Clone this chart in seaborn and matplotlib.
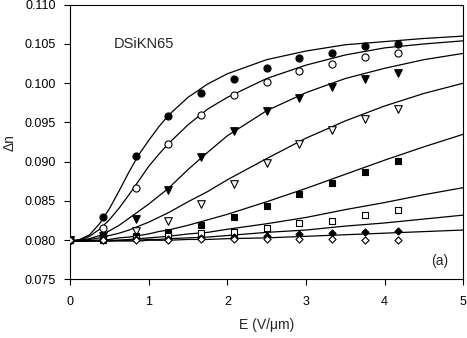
import matplotlib
matplotlib.use("Agg")
import matplotlib.pyplot as plt
from matplotlib.ticker import FormatStrFormatter
import seaborn as sns

# field E (V/um) where the points were measured
E_pts = [0, 0.417, 0.833, 1.25, 1.667, 2.083, 2.5, 2.917, 3.333, 3.75, 4.167]

# measured birefringence, one list per marker
dn_fc = [0.0800, 0.0830, 0.0907, 0.0958, 0.0987, 0.1006, 0.1020, 0.1032, 0.1039, 0.1047, 0.1050]
dn_oc = [0.0800, 0.0815, 0.0867, 0.0923, 0.0960, 0.0985, 0.1002, 0.1015, 0.1025, 0.1033, 0.1039]
dn_ft = [0.0800, 0.0805, 0.0827, 0.0864, 0.0906, 0.0939, 0.0964, 0.0981, 0.0995, 0.1005, 0.1013]
dn_ot = [0.0800, 0.0802, 0.0812, 0.0824, 0.0846, 0.0871, 0.0899, 0.0922, 0.0941, 0.0955, 0.0967]
dn_fs = [0.0800, 0.0801, 0.0805, 0.0811, 0.0819, 0.0829, 0.0843, 0.0859, 0.0873, 0.0887, 0.0901]
dn_os = [0.0800, 0.0800, 0.0803, 0.0805, 0.0809, 0.0810, 0.0815, 0.0822, 0.0825, 0.0832, 0.0838]
dn_fd = [0.0800, 0.0800, 0.0801, 0.0802, 0.0803, 0.0804, 0.0805, 0.0808, 0.0809, 0.0810, 0.0812]
dn_od = [0.0800, 0.0800, 0.0800, 0.0800, 0.0801, 0.0801, 0.0801, 0.0802, 0.0801, 0.0800, 0.0800]

# fitted curves
E_fit = [0, 0.125, 0.25, 0.375, 0.5, 0.625, 0.75, 0.875, 1, 1.125, 1.25,
         1.5, 1.75, 2, 2.5, 3, 3.5, 4, 4.5, 5]
fit1 = [0.0799, 0.0801, 0.0807, 0.0821, 0.0840, 0.0863, 0.0887, 0.0909, 0.0927, 0.0944, 0.0959,
        0.0982, 0.0999, 0.1012, 0.1030, 0.1041, 0.1049, 0.1053, 0.1057, 0.1060]
fit2 = [0.0799, 0.0800, 0.0805, 0.0814, 0.0826, 0.0841, 0.0858, 0.0876, 0.0894, 0.0909, 0.0923,
        0.0947, 0.0967, 0.0982, 0.1006, 0.1023, 0.1036, 0.1045, 0.1050, 0.1054]
fit3 = [0.0799, 0.0800, 0.0802, 0.0806, 0.0812, 0.0819, 0.0828, 0.0837, 0.0846, 0.0856, 0.0866,
        0.0890, 0.0912, 0.0933, 0.0965, 0.0988, 0.1006, 0.1019, 0.1030, 0.1038]
fit4 = [0.0799, 0.0799, 0.0801, 0.0803, 0.0806, 0.0809, 0.0813, 0.0818, 0.0823, 0.0829, 0.0835,
        0.0849, 0.0862, 0.0877, 0.0904, 0.0930, 0.0952, 0.0971, 0.0987, 0.1000]
fit5 = [0.0799, 0.0799, 0.0800, 0.0800, 0.0801, 0.0803, 0.0804, 0.0806, 0.0808, 0.0811, 0.0813,
        0.0819, 0.0826, 0.0833, 0.0849, 0.0866, 0.0884, 0.0902, 0.0919, 0.0935]
fit6 = [0.0799, 0.0799, 0.0799, 0.0800, 0.0800, 0.0800, 0.0801, 0.0802, 0.0803, 0.0804, 0.0805,
        0.0808, 0.0810, 0.0814, 0.0821, 0.0829, 0.0839, 0.0848, 0.0858, 0.0867]
fit7 = [0.0799, 0.0799, 0.0799, 0.0799, 0.0799, 0.0800, 0.0800, 0.0800, 0.0801, 0.0801, 0.0802,
        0.0803, 0.0804, 0.0806, 0.0810, 0.0813, 0.0818, 0.0822, 0.0827, 0.0832]
fit8 = [0.0799, 0.0799, 0.0799, 0.0799, 0.0799, 0.0799, 0.0799, 0.0799, 0.0800, 0.0800, 0.0800,
        0.0801, 0.0801, 0.0802, 0.0803, 0.0805, 0.0807, 0.0809, 0.0811, 0.0813]

sns.set_style("ticks")
plt.rcParams['font.family'] = ['Liberation Sans', 'DejaVu Sans']

fig = plt.figure(figsize=(4.67, 3.38), dpi=100)
ax = fig.add_axes([0.1499, 0.1731, 0.8422, 0.8130])

# curves first, markers on top
for fit in [fit1, fit2, fit3, fit4, fit5, fit6, fit7, fit8]:
    sns.lineplot(x=E_fit, y=fit, color='black', linewidth=0.9, ax=ax)

# (values, marker, size, face colour)
series = [
    (dn_fc, 'o', 26, 'black'),
    (dn_oc, 'o', 26, 'white'),
    (dn_ft, 'v', 30, 'black'),
    (dn_ot, 'v', 30, 'white'),
    (dn_fs, 's', 17, 'black'),
    (dn_os, 's', 17, 'white'),
    (dn_fd, 'D', 13, 'black'),
    (dn_od, 'D', 13, 'white'),
]
for vals, mk, s, fc in series:
    sns.scatterplot(x=E_pts, y=vals, marker=mk, s=s, color=fc,
                    edgecolor='black', linewidth=0.8, ax=ax, zorder=3)

ax.set_xlim(0, 5)
ax.set_ylim(0.075, 0.110)
ax.set_xticks([0, 1, 2, 3, 4, 5])
ax.set_yticks([0.075, 0.080, 0.085, 0.090, 0.095, 0.100, 0.105, 0.110])
ax.yaxis.set_major_formatter(FormatStrFormatter('%.3f'))
ax.tick_params(axis='both', direction='out', length=4.5, width=0.8,
               labelsize=9, colors='black')
ax.tick_params(axis='x', pad=7.5)
ax.tick_params(axis='y', pad=5.5)
for sp in ax.spines.values():
    sp.set_linewidth(0.8)
    sp.set_color('black')

ax.set_xlabel('E (V/μm)', fontsize=10)
ax.set_ylabel('Δn', fontsize=10)
ax.xaxis.set_label_coords(0.5, -0.14)
ax.yaxis.set_label_coords(-0.135, 0.5)

ax.text(0.56, 0.1050, 'DSiKN65', fontsize=10.5, ha='left', va='center')
ax.text(4.70, 0.0774, '(a)', fontsize=10, ha='center', va='center')

fig.savefig('out.png', dpi=100)
